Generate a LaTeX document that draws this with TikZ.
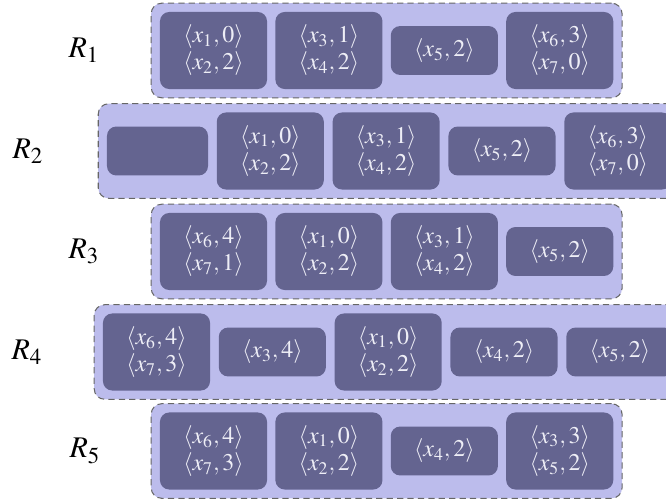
\documentclass[tikz,border=0pt]{standalone}
\usepackage{mathptmx}
\usetikzlibrary{positioning,fit,backgrounds}
\definecolor{rowfill}{RGB}{188,188,236}
\definecolor{cellfill}{RGB}{100,100,144}
\definecolor{celltext}{RGB}{238,238,246}
\begin{document}
\begin{tikzpicture}[x=0.48pt, y=-0.48pt, node distance=3.6pt,
    cell/.style={fill=cellfill, text=celltext, rounded corners=4.5pt,
      minimum width=51.4pt, minimum height=37pt, inner sep=0pt, align=center,
      font=\fontsize{11.5}{13}\selectfont},
    short/.style={cell, minimum height=23.5pt},
    rowbox/.style={fill=rowfill, draw=black!60, line width=0.5pt,
      dash pattern=on 3pt off 2pt, rounded corners=5pt, inner sep=4pt},
    rname/.style={font=\Large}]
  \useasboundingbox (0,0) rectangle (666,499);
  % ROW 1
  \node[cell] (a1) at (213.5,50.5) {$\langle x_1,0\rangle$\\$\langle x_2,2\rangle$};
  \node[cell, right=of a1] (a2) {$\langle x_3,1\rangle$\\$\langle x_4,2\rangle$};
  \node[short, right=of a2] (a3) {$\langle x_5,2\rangle$};
  \node[cell, right=of a3] (a4) {$\langle x_6,3\rangle$\\$\langle x_7,0\rangle$};
  \node[rname] (r1) at (84,50.5) {$R_1$};
  % ROW 2
  \node[short, minimum width=48.5pt] (b0) at (157.5,151) {};
  \node[cell, right=3.8pt of b0] (b1) {$\langle x_1,0\rangle$\\$\langle x_2,2\rangle$};
  \node[cell, right=3.8pt of b1] (b2) {$\langle x_3,1\rangle$\\$\langle x_4,2\rangle$};
  \node[short, right=3.8pt of b2] (b3) {$\langle x_5,2\rangle$};
  \node[cell, right=3.8pt of b3] (b4) {$\langle x_6,3\rangle$\\$\langle x_7,0\rangle$};
  \node[rname] (r2) at (28,151) {$R_2$};
  % ROW 3
  \node[cell] (c1) at (213.5,251.5) {$\langle x_6,4\rangle$\\$\langle x_7,1\rangle$};
  \node[cell, right=of c1] (c2) {$\langle x_1,0\rangle$\\$\langle x_2,2\rangle$};
  \node[cell, right=of c2] (c3) {$\langle x_3,1\rangle$\\$\langle x_4,2\rangle$};
  \node[short, right=of c3] (c4) {$\langle x_5,2\rangle$};
  \node[rname] (r3) at (84,251.5) {$R_3$};
  % ROW 4
  \node[cell] (d1) at (156.5,352) {$\langle x_6,4\rangle$\\$\langle x_7,3\rangle$};
  \node[short, right=3.8pt of d1] (d2) {$\langle x_3,4\rangle$};
  \node[cell, right=3.8pt of d2] (d3) {$\langle x_1,0\rangle$\\$\langle x_2,2\rangle$};
  \node[short, right=3.8pt of d3] (d4) {$\langle x_4,2\rangle$};
  \node[short, right=3.8pt of d4] (d5) {$\langle x_5,2\rangle$};
  \node[rname] (r4) at (27,352) {$R_4$};
  % ROW 5
  \node[cell] (e1) at (213.5,451) {$\langle x_6,4\rangle$\\$\langle x_7,3\rangle$};
  \node[cell, right=of e1] (e2) {$\langle x_1,0\rangle$\\$\langle x_2,2\rangle$};
  \node[short, right=of e2] (e3) {$\langle x_4,2\rangle$};
  \node[cell, right=of e3] (e4) {$\langle x_3,3\rangle$\\$\langle x_5,2\rangle$};
  \node[rname] (r5) at (85,451) {$R_5$};
  % ROW BOXES
  \begin{scope}[on background layer]
    \node[rowbox, fit=(a1)(a4)] (row1) {};
    \node[rowbox, fit=(b0)(b1)(b4)] (row2) {};
    \node[rowbox, fit=(c1)(c3)(c4)] (row3) {};
    \node[rowbox, fit=(d1)(d3)(d5)] (row4) {};
    \node[rowbox, fit=(e1)(e2)(e4)] (row5) {};
  \end{scope}
\end{tikzpicture}
\end{document}
